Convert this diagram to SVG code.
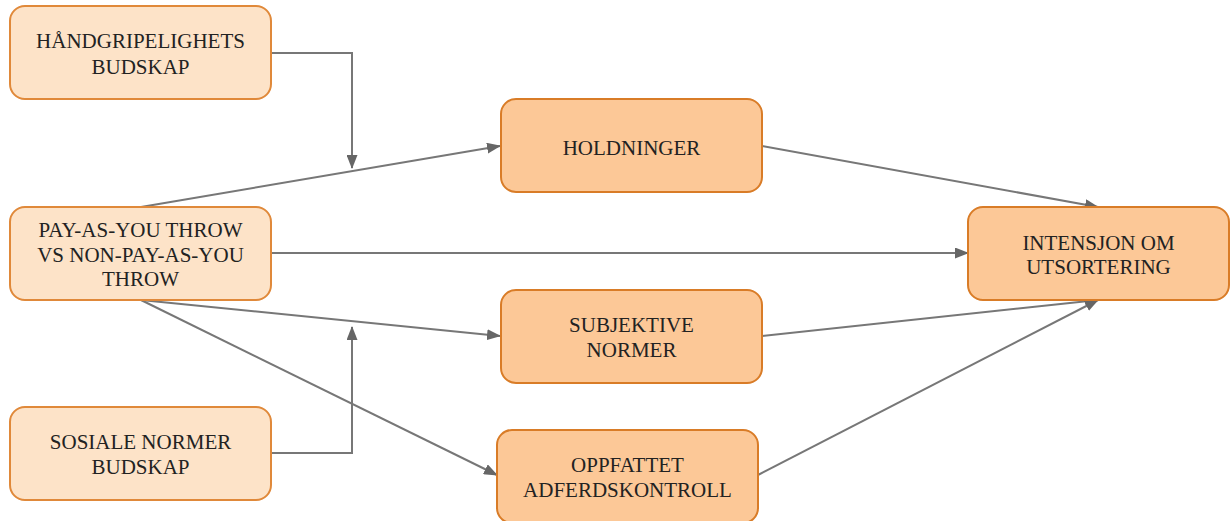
<svg xmlns="http://www.w3.org/2000/svg" width="1231" height="521" viewBox="0 0 1231 521">
<defs>
<style>
.light{fill:#fde3c8;stroke:#e0893a;stroke-width:2}
.dark{fill:#fcc897;stroke:#d97c27;stroke-width:2}
.t{font-family:'Liberation Serif','Times New Roman',serif;font-size:21px;fill:#222;text-anchor:middle}
.c{fill:none;stroke:#777;stroke-width:2}
</style>
<marker id="ah" viewBox="0 0 14 11" refX="13" refY="5.5" markerWidth="14" markerHeight="11" markerUnits="userSpaceOnUse" orient="auto">
<path d="M0,0 L14,5.5 L0,11 z" fill="#666"/>
</marker>
</defs>
<rect width="1231" height="521" fill="#fff"/>
<g id="connectors">
<polyline class="c" points="271,53 352,53 352,168" marker-end="url(#ah)"/>
<line class="c" x1="141" y1="207" x2="500" y2="146" marker-end="url(#ah)"/>
<line class="c" x1="271" y1="253" x2="968" y2="253" marker-end="url(#ah)"/>
<line class="c" x1="141" y1="300" x2="500" y2="336" marker-end="url(#ah)"/>
<polyline class="c" points="271,453 352,453 352,327" marker-end="url(#ah)"/>
<line class="c" x1="141" y1="300" x2="497" y2="475" marker-end="url(#ah)"/>
<line class="c" x1="762" y1="146" x2="1098" y2="207" marker-end="url(#ah)"/>
<line class="c" x1="762" y1="336" x2="1098" y2="300" marker-end="url(#ah)"/>
<line class="c" x1="758" y1="475" x2="1098" y2="300" marker-end="url(#ah)"/>
</g>
<g id="n-handgripelighet">
<rect class="light" x="10" y="6" width="261" height="93" rx="15"/>
<text class="t" x="140.5" y="48">HÅNDGRIPELIGHETS</text>
<text class="t" x="140.5" y="74">BUDSKAP</text>
</g>
<g id="n-payt">
<rect class="light" x="10" y="207" width="261" height="93" rx="15"/>
<text class="t" x="140.5" y="237">PAY-AS-YOU THROW</text>
<text class="t" x="140.5" y="262">VS NON-PAY-AS-YOU</text>
<text class="t" x="140.5" y="286">THROW</text>
</g>
<g id="n-sosiale">
<rect class="light" x="10" y="407" width="261" height="93" rx="15"/>
<text class="t" x="140.5" y="449">SOSIALE NORMER</text>
<text class="t" x="140.5" y="474">BUDSKAP</text>
</g>
<g id="n-holdninger">
<rect class="dark" x="501" y="99" width="261" height="93" rx="15"/>
<text class="t" x="631.5" y="155">HOLDNINGER</text>
</g>
<g id="n-subjektive">
<rect class="dark" x="501" y="290" width="261" height="93" rx="15"/>
<text class="t" x="631.5" y="332">SUBJEKTIVE</text>
<text class="t" x="631.5" y="357">NORMER</text>
</g>
<g id="n-oppfattet">
<rect class="dark" x="497" y="430" width="261" height="93" rx="15"/>
<text class="t" x="627.5" y="472">OPPFATTET</text>
<text class="t" x="627.5" y="497">ADFERDSKONTROLL</text>
</g>
<g id="n-intensjon">
<rect class="dark" x="968" y="207" width="261" height="93" rx="15"/>
<text class="t" x="1098.5" y="250">INTENSJON OM</text>
<text class="t" x="1098.5" y="274">UTSORTERING</text>
</g>
</svg>
